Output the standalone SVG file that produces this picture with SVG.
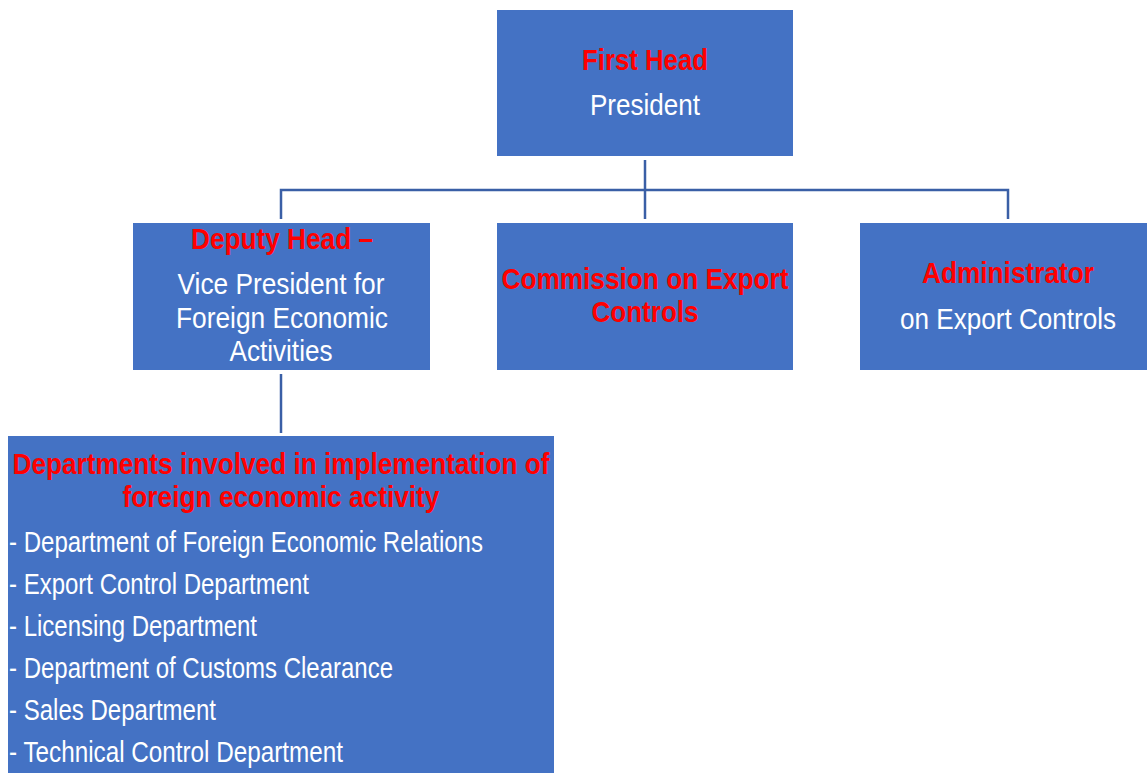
<svg xmlns="http://www.w3.org/2000/svg" width="1147" height="773" viewBox="0 0 1147 773">
<style>
.box{fill:#4472C4}
.t{font-family:"Liberation Sans",Arial,sans-serif;font-size:30px;text-anchor:middle}
.r{fill:#FF0000;font-weight:bold}
.w{fill:#FFFFFF}
.l{font-family:"Liberation Sans",Arial,sans-serif;font-size:30px;fill:#FFFFFF}
.c{stroke:#3A5FA6;stroke-width:2.5;fill:none}
</style>
<rect width="1147" height="773" fill="#FFFFFF"/>
<g id="connectors">
<line class="c" x1="645" y1="160" x2="645" y2="219"/>
<polyline class="c" points="281,219 281,190 1008,190 1008,219"/>
<line class="c" x1="281" y1="374" x2="281" y2="433"/>
</g>
<g id="first-head">
<rect class="box" x="497" y="10" width="296" height="146"/>
<text class="t r" x="645" y="70" textLength="126" lengthAdjust="spacingAndGlyphs">First Head</text>
<text class="t w" x="645" y="115" textLength="110" lengthAdjust="spacingAndGlyphs">President</text>
</g>
<g id="deputy-head">
<rect class="box" x="133" y="223" width="297" height="147"/>
<text class="t r" x="282" y="249" textLength="182" lengthAdjust="spacingAndGlyphs">Deputy Head –</text>
<text class="t w" x="281" y="294" textLength="207" lengthAdjust="spacingAndGlyphs">Vice President for</text>
<text class="t w" x="282" y="328" textLength="212" lengthAdjust="spacingAndGlyphs">Foreign Economic</text>
<text class="t w" x="281" y="361" textLength="103" lengthAdjust="spacingAndGlyphs">Activities</text>
</g>
<g id="commission">
<rect class="box" x="497" y="223" width="296" height="147"/>
<text class="t r" x="645" y="289" textLength="287" lengthAdjust="spacingAndGlyphs">Commission on Export</text>
<text class="t r" x="645" y="322" textLength="107" lengthAdjust="spacingAndGlyphs">Controls</text>
</g>
<g id="administrator">
<rect class="box" x="860" y="223" width="287" height="147"/>
<text class="t r" x="1008" y="283" textLength="172" lengthAdjust="spacingAndGlyphs">Administrator</text>
<text class="t w" x="1008" y="329" textLength="216" lengthAdjust="spacingAndGlyphs">on Export Controls</text>
</g>
<g id="departments">
<rect class="box" x="8" y="436" width="546" height="337"/>
<text class="t r" x="281" y="474" textLength="537" lengthAdjust="spacingAndGlyphs">Departments involved in implementation of</text>
<text class="t r" x="281" y="507" textLength="317" lengthAdjust="spacingAndGlyphs">foreign economic activity</text>
<text class="l" x="9" y="552" textLength="474" lengthAdjust="spacingAndGlyphs">- Department of Foreign Economic Relations</text>
<text class="l" x="9" y="594" textLength="300" lengthAdjust="spacingAndGlyphs">- Export Control Department</text>
<text class="l" x="9" y="636" textLength="248" lengthAdjust="spacingAndGlyphs">- Licensing Department</text>
<text class="l" x="9" y="678" textLength="384" lengthAdjust="spacingAndGlyphs">- Department of Customs Clearance</text>
<text class="l" x="9" y="720" textLength="207" lengthAdjust="spacingAndGlyphs">- Sales Department</text>
<text class="l" x="9" y="762" textLength="334" lengthAdjust="spacingAndGlyphs">- Technical Control Department</text>
</g>
</svg>
